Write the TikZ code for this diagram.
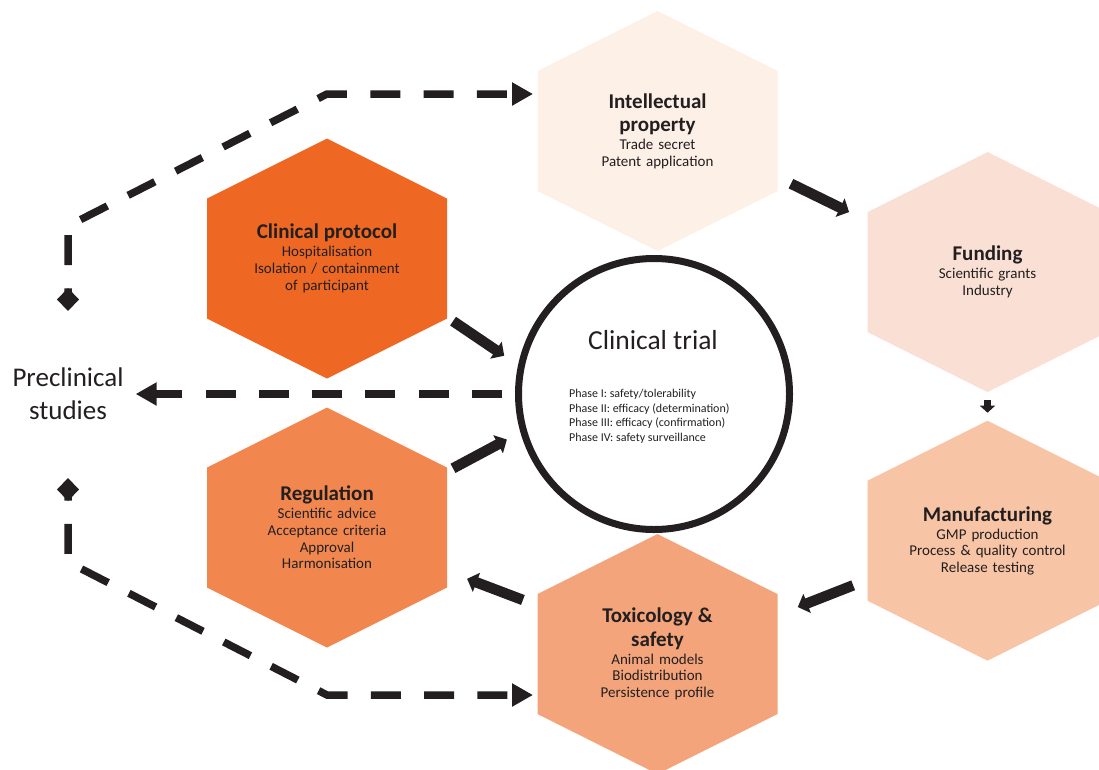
\documentclass[tikz,border=0pt]{standalone}
\usepackage{fontspec}
\setmainfont{Carlito}
\usepackage{tikz}
\usetikzlibrary{arrows.meta}

\definecolor{ink}{RGB}{35,31,32}
\definecolor{protocolfill}{RGB}{238,104,35}
\definecolor{regulationfill}{RGB}{241,135,79}
\definecolor{toxfill}{RGB}{243,164,122}
\definecolor{manufacturingfill}{RGB}{247,196,166}
\definecolor{fundingfill}{RGB}{250,224,212}
\definecolor{ipfill}{RGB}{253,240,231}

\newcommand{\hextitle}[1]{{\fontsize{21}{23.5}\selectfont\bfseries #1\par}\vspace{1.3pt}}

\begin{document}
\begin{tikzpicture}[x=1pt,y=1pt,yscale=-1,xscale=1,
    hexa/.style={minimum width=240pt, minimum height=240pt, inner sep=0pt, outer sep=0pt,
      text width=226pt, align=center, text=ink, font=\fontsize{15}{16.7}\selectfont,
      path picture={\fill[#1] (path picture bounding box.center) ++(0,-120) -- ++(120,60) -- ++(0,120)
        -- ++(-120,60) -- ++(-120,-60) -- ++(0,-120) -- cycle;}},
    bigarrow/.style={draw=ink, line width=10.5pt, -{Triangle[length=10pt,width=20pt]}},
    smallarrow/.style={draw=ink, line width=7pt, -{Triangle[length=7pt,width=15pt]}},
    dashline/.style={draw=ink, line width=7.5pt, dash pattern=on 30pt off 23.3pt},
    headtip/.tip={Triangle[length=21pt,width=22pt]},
    tailtip/.tip={Diamond[length=23pt,width=22pt]}
  ]
        \useasboundingbox (0,0) rectangle (1099,769);
        \clip (0,0) rectangle (1099,769);

        %Shape: Hexagon [Intellectual property]
        \node[hexa=ipfill] (ip) at (657.5,131) {\hextitle{Intellectual\\property}Trade secret\\Patent application};
        %Shape: Hexagon [Funding]
        \node[hexa=fundingfill] (fund) at (987.5,272) {\hextitle{Funding}Scientific grants\\Industry};
        %Shape: Hexagon [Manufacturing]
        \node[hexa=manufacturingfill] (manu) at (987.5,540.7) {\hextitle{Manufacturing}GMP production\\Process \& quality control\\Release testing};
        %Shape: Hexagon [Toxicology]
        \node[hexa=toxfill] (tox) at (657.5,654) {\hextitle{Toxicology \&\\safety}Animal models\\Biodistribution\\Persistence profile};
        %Shape: Hexagon [Regulation]
        \node[hexa=regulationfill] (reg) at (327,527.5) {\hextitle{Regulation}Scientific advice\\Acceptance criteria\\Approval\\Harmonisation};
        %Shape: Hexagon [Clinical protocol]
        \node[hexa=protocolfill] (proto) at (327,258.5) {\hextitle{Clinical protocol}Hospitalisation\\Isolation / containment\\of participant};

        %Shape: Circle
        \node[circle, draw=ink, line width=7pt, minimum size=271pt, inner sep=0pt] (trial) at (654,394) {};
        % Text Node
        \node[font=\fontsize{27.5}{33}\selectfont, text=ink] (trialname) at (653,340.5) {Clinical trial};
        % Text Node
        \node[anchor=north west, align=left, inner sep=0pt, font=\fontsize{12}{14.7}\selectfont, text=ink] (phases) at (569,389) {Phase I: safety/tolerability\\Phase II: efficacy (determination)\\Phase III: efficacy (confirmation)\\Phase IV: safety surveillance};
        % Text Node
        \node[align=center, inner sep=12pt, font=\fontsize{27}{32.7}\selectfont, text=ink] (pre) at (68,394) {Preclinical\\studies};

        % corners of the dashed loops
        \coordinate (up0) at (68,311);
        \coordinate (up1) at (68,226);
        \coordinate (up2) at (327,94);
        \coordinate (dn0) at (68,478);
        \coordinate (dn1) at (68,562);
        \coordinate (dn2) at (327,695);

        %Straight Lines
        \draw[bigarrow, shorten <=15pt, shorten >=20.5pt] (ip.-21.6) -- (fund.157.3);
        \draw[smallarrow, shorten <=8pt, shorten >=8pt] (fund.south) -- (manu.north);
        \draw[bigarrow, shorten <=15.4pt, shorten >=21.8pt] (manu.198.9) -- (tox.18.2);
        \draw[bigarrow, shorten <=15.6pt, shorten >=21.5pt] (tox.158.9) -- (reg.-20.6);
        \draw[bigarrow, shorten <=6.8pt, shorten >=15.3pt] (reg.25) -- (trial.196.3);
        \draw[bigarrow, shorten <=7.3pt, shorten >=16.7pt] (proto.-26.5) -- (trial.168.6);

        %Dashed Lines
        \draw[dashline, dash phase=25pt, tailtip-headtip, shorten >=4.5pt] (up0) -- (up1) -- (up2) -- (ip.west |- up2);
        \draw[dashline, -headtip, shorten <=13pt] (trial.west) -- (pre.east);
        \draw[dashline, dash phase=25pt, tailtip-headtip, shorten >=4.5pt] (dn0) -- (dn1) -- (dn2) -- (tox.west |- dn2);

\end{tikzpicture}
\end{document}
